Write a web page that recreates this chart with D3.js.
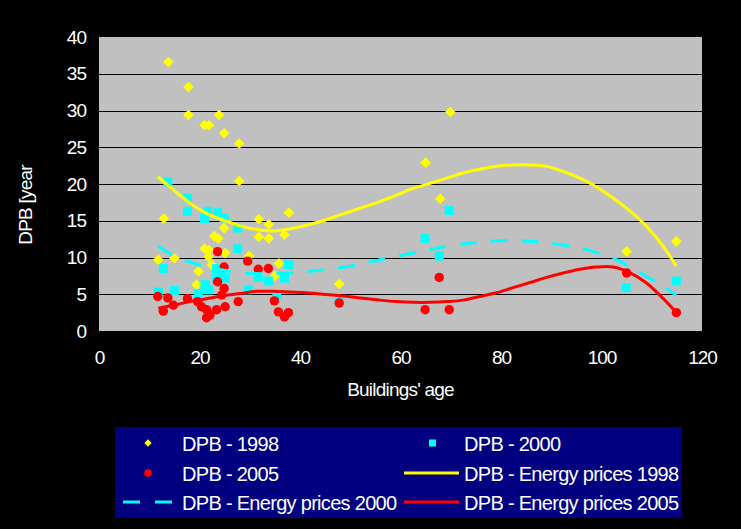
<!DOCTYPE html>
<html>
<head>
<meta charset="utf-8">
<script src="https://cdn.jsdelivr.net/npm/d3@7"></script>
<style>
  html, body { margin: 0; padding: 0; background: #000; }
  svg { display: block; }
  text { font-family: "Liberation Sans", Arial, sans-serif; fill: #fff; }
</style>
</head>
<body>
<svg id="chart" width="741" height="529"></svg>
<script>
// ---- data ----
const xTicks = [0, 20, 40, 60, 80, 100, 120];
const yTicks = [0, 5, 10, 15, 20, 25, 30, 35, 40];

// scatter: [buildings' age, DPB years]
const dpb1998 = [
  [13.8,36.6],[17.8,33.2],[17.8,29.4],[21.0,28.0],[21.9,28.0],[23.9,29.4],[24.9,26.9],
  [27.9,25.5],[27.9,20.4],[12.9,15.3],[24.9,14.0],[22.9,12.9],[23.7,12.6],[21.0,11.2],
  [21.9,11.0],[25.1,10.6],[11.8,9.7],[15.0,9.9],[21.8,10.1],[22.4,9.0],[19.8,8.1],
  [19.4,6.3],[29.9,10.2],[37.8,16.1],[31.8,15.2],[33.8,14.5],[31.8,12.8],[33.8,12.6],
  [36.9,13.1],[35.8,9.2],[35.0,7.5],[47.8,6.4],[65.0,22.9],[67.9,18.0],[69.9,29.8],
  [105.0,10.8],[114.9,12.2]
];
const dpb2000 = [
  [13.7,20.3],[17.6,18.1],[17.6,16.3],[21.6,16.3],[21.0,15.3],[23.6,16.1],[24.9,15.4],
  [27.6,14.0],[27.6,11.2],[12.8,8.5],[11.8,5.3],[15.0,5.5],[19.8,5.1],[21.1,6.3],
  [21.8,5.6],[23.4,8.5],[24.4,7.8],[23.4,7.2],[25.1,7.2],[29.7,5.6],[37.7,9.0],
  [31.7,7.3],[33.7,6.8],[36.9,7.2],[35.4,4.9],[47.8,3.9],[64.9,12.6],[67.7,10.2],
  [69.7,16.4],[104.9,5.9],[114.9,6.8]
];
const dpb2005 = [
  [23.6,10.8],[24.9,8.7],[29.6,9.5],[23.6,6.7],[24.9,5.8],[11.7,4.7],[13.7,4.5],
  [14.8,3.5],[17.6,4.4],[12.8,2.7],[19.6,4.0],[20.4,3.3],[21.4,2.9],[22.1,2.2],
  [21.4,1.8],[23.4,2.9],[25.1,3.3],[27.7,4.0],[24.4,4.9],[31.7,8.4],[33.7,8.5],
  [34.9,4.1],[35.7,2.6],[36.9,1.9],[37.7,2.5],[47.8,3.8],[64.9,2.9],[67.7,7.3],
  [69.7,2.9],[105.0,7.9],[114.9,2.5]
];

// trend lines
const trend1998 = [
  [11.7,21.0],[14.8,19.2],[18.1,17.4],[21.4,16.0],[24.7,15.1],[28.1,14.3],[31.4,13.8],
  [34.7,13.6],[38.0,13.9],[41.3,14.4],[44.6,15.0],[48.0,15.8],[52.0,16.7],[55.9,17.6],
  [59.2,18.5],[62.5,19.4],[65.9,20.1],[69.2,20.8],[72.5,21.5],[75.8,22.0],[79.1,22.4],
  [82.4,22.6],[85.8,22.6],[89.1,22.4],[92.4,21.7],[95.7,20.8],[99.0,19.6],[102.3,18.1],
  [105.7,16.3],[109.0,14.2],[112.3,11.5],[114.9,8.8]
];
const trend2000 = [
  [11.7,11.6],[15.5,10.0],[18.1,9.4],[21.4,8.7],[24.7,8.3],[28.1,7.9],[33.0,7.8],
  [38.0,7.9],[41.3,8.1],[44.6,8.3],[48.0,8.6],[52.0,9.1],[55.9,9.7],[62.5,10.6],
  [69.2,11.5],[75.8,12.1],[82.4,12.3],[89.1,12.0],[95.7,11.3],[102.3,9.9],[105.7,8.7],
  [109.0,7.4],[112.3,6.0],[114.9,4.9]
];
const trend2005 = [
  [11.8,3.1],[14.8,3.5],[18.1,4.0],[21.4,4.4],[24.7,4.8],[28.1,5.1],[31.4,5.4],
  [34.7,5.4],[38.0,5.3],[41.3,5.2],[44.6,5.0],[48.0,4.8],[52.0,4.5],[55.9,4.2],
  [59.2,4.0],[62.5,3.9],[65.9,3.9],[69.2,4.0],[72.5,4.2],[75.8,4.7],[79.1,5.2],
  [82.4,5.9],[85.8,6.6],[89.1,7.3],[92.4,7.9],[95.7,8.4],[99.0,8.7],[102.3,8.7],
  [105.7,7.9],[109.0,6.5],[112.3,4.4],[114.9,2.5]
];

const legendLabels = [
  "DPB - 1998", "DPB - 2000", "DPB - 2005",
  "DPB - Energy prices 1998", "DPB - Energy prices 2000", "DPB - Energy prices 2005"
];
const xTitle = "Buildings' age";
const yTitle = "DPB [year";

// ---- drawing ----
const svg = d3.select("#chart");
const x = d3.scaleLinear().domain([0, 120]).range([99, 702]);
const y = d3.scaleLinear().domain([0, 40]).range([331, 37]);

const YELLOW = "#FFFF00", CYAN = "#00FFFF", RED = "#FF0000";

svg.append("rect").attr("width", 741).attr("height", 529).attr("fill", "#000");

// plot area
svg.append("rect")
  .attr("x", x(0)).attr("y", y(40))
  .attr("width", x(120) - x(0)).attr("height", y(0) - y(40))
  .attr("fill", "#C0C0C0");

// gridlines
svg.append("g").selectAll("line")
  .data(yTicks.filter(d => d > 0 && d < 40))
  .join("line")
  .attr("x1", x(0)).attr("x2", x(120))
  .attr("y1", d => Math.round(y(d)) + 0.5).attr("y2", d => Math.round(y(d)) + 0.5)
  .attr("stroke", "#000").attr("stroke-width", 1);

// axes
const xAxis = svg.append("g").attr("transform", `translate(0,${y(0)})`)
  .call(d3.axisBottom(x).tickValues(xTicks).tickSize(0).tickPadding(20));
const yAxis = svg.append("g").attr("transform", `translate(${x(0)},0)`)
  .call(d3.axisLeft(y).tickValues(yTicks).tickSize(0).tickPadding(13));
[xAxis, yAxis].forEach(g => {
  g.select(".domain").remove();
  g.selectAll("text")
    .attr("fill", "#fff")
    .style("font-family", '"Liberation Sans", Arial, sans-serif')
    .style("font-size", "19px")
    .style("letter-spacing", "-1px");
});

// axis titles
svg.append("text")
  .attr("x", (x(0) + x(120)) / 2).attr("y", 396)
  .attr("text-anchor", "middle")
  .style("font-size", "19px").style("letter-spacing", "-0.8px")
  .text(xTitle);
svg.append("text")
  .attr("transform", "translate(32,205) rotate(-90)")
  .attr("text-anchor", "middle")
  .style("font-size", "19px").style("letter-spacing", "-0.8px")
  .text(yTitle);

// clip for marks
svg.append("clipPath").attr("id", "plotclip")
  .append("rect").attr("x", x(0)).attr("y", y(40))
  .attr("width", x(120) - x(0)).attr("height", y(0) - y(40));
const plot = svg.append("g").attr("clip-path", "url(#plotclip)");

// scatter markers
const diamond = d3.symbol().type(d3.symbolDiamond2).size(72);
plot.append("g").selectAll("path").data(dpb1998).join("path")
  .attr("d", diamond)
  .attr("transform", d => `translate(${x(d[0])},${y(d[1])})`)
  .attr("fill", YELLOW);

plot.append("g").selectAll("rect").data(dpb2000).join("rect")
  .attr("x", d => x(d[0]) - 4.5).attr("y", d => y(d[1]) - 4.5)
  .attr("width", 9).attr("height", 9)
  .attr("fill", CYAN);

plot.append("g").selectAll("circle").data(dpb2005).join("circle")
  .attr("cx", d => x(d[0])).attr("cy", d => y(d[1])).attr("r", 4.7)
  .attr("fill", RED);

// trend lines
const line = d3.line().x(d => x(d[0])).y(d => y(d[1])).curve(d3.curveCatmullRom);
plot.append("path").datum(trend1998).attr("d", line)
  .attr("fill", "none").attr("stroke", YELLOW).attr("stroke-width", 3);
plot.append("path").datum(trend2000).attr("d", line)
  .attr("fill", "none").attr("stroke", CYAN).attr("stroke-width", 3)
  .attr("stroke-dasharray", "17,14");
plot.append("path").datum(trend2005).attr("d", line)
  .attr("fill", "none").attr("stroke", RED).attr("stroke-width", 3);

// legend
const lg = svg.append("g");
lg.append("rect").attr("x", 115).attr("y", 427).attr("width", 567).attr("height", 91)
  .attr("fill", "#000080");

const rowsY = [443, 473, 502];
const col1Text = 182, col2Text = 464;
const legendPos = [
  [col1Text, rowsY[0]], [col2Text, rowsY[0]],
  [col1Text, rowsY[1]], [col2Text, rowsY[1]],
  [col1Text, rowsY[2]], [col2Text, rowsY[2]]
];
legendLabels.forEach((label, i) => {
  const [tx, ty] = legendPos[i];
  lg.append("text").attr("x", tx).attr("y", ty + 7.5)
    .style("font-size", "20px").style("letter-spacing", "-0.7px")
    .text(label);
});
// legend symbols
lg.append("path").attr("d", d3.symbol().type(d3.symbolDiamond2).size(34))
  .attr("transform", `translate(148,${rowsY[0]})`).attr("fill", YELLOW);
lg.append("rect").attr("x", 429).attr("y", rowsY[0] - 3.5).attr("width", 7).attr("height", 7)
  .attr("fill", CYAN);
lg.append("circle").attr("cx", 148).attr("cy", rowsY[1]).attr("r", 3.8).attr("fill", RED);
lg.append("line").attr("x1", 404).attr("x2", 459).attr("y1", rowsY[1]).attr("y2", rowsY[1])
  .attr("stroke", YELLOW).attr("stroke-width", 3);
lg.append("line").attr("x1", 123).attr("x2", 174).attr("y1", rowsY[2]).attr("y2", rowsY[2])
  .attr("stroke", CYAN).attr("stroke-width", 3).attr("stroke-dasharray", "17,15");
lg.append("line").attr("x1", 404).attr("x2", 459).attr("y1", rowsY[2]).attr("y2", rowsY[2])
  .attr("stroke", RED).attr("stroke-width", 3);
</script>
</body>
</html>
